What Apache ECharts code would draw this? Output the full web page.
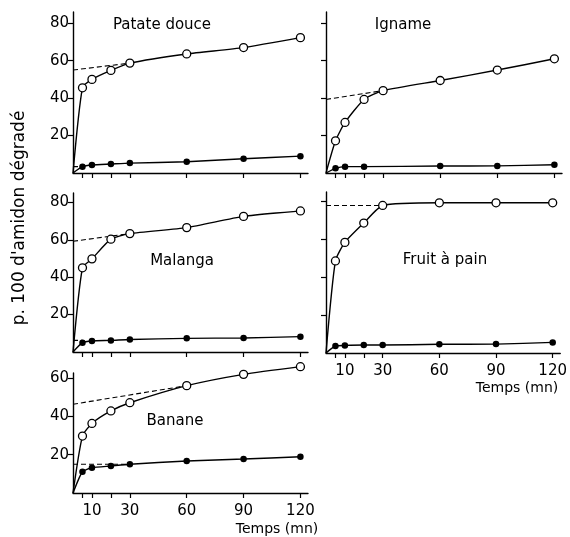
<!DOCTYPE html>
<html><head><meta charset="utf-8">
<script src="https://cdn.jsdelivr.net/npm/echarts@6/dist/echarts.min.js"></script>
<style>html,body{margin:0;padding:0;background:#fff}#c{width:570px;height:537px}</style>
</head><body><div id="c"></div>
<script>
// ---- data ----
const times = [0, 5, 10, 20, 30, 60, 90, 120];
const timesIgnameFilled = [0, 5, 10, 20, 60, 90, 120];
const xTicks = [5, 10, 20, 30, 60, 90, 120];
const xLabels = [10, 30, 60, 90, 120];
const yTicks = [20, 40, 60, 80];
const yTicksBanane = [20, 40, 60];
const panelNames = ['Patate douce', 'Igname', 'Malanga', 'Fruit à pain', 'Banane'];
const yTitle = "p. 100 d'amidon dégradé";
const xTitle = 'Temps (mn)';

const patateOpen   = [0, 45.5, 50, 54.8, 58.7, 63.6, 67, 72.3];
const patateFilled = [0, 3.4, 4.3, 4.8, 5.3, 6, 7.6, 9];
const patateDash = [[0, 55], [30, 58.7]];
const patateDashFilled = [[0, 3.4], [5, 3.4]];

const ignameOpen   = [0, 17.2, 27, 39.3, 44, 49.4, 55, 61];
const ignameFilled = [0, 2.5, 3.4, 3.4, 3.7, 3.8, 4.4];
const ignameDash = [[0, 39.3], [30, 44]];

const malangaOpen   = [0, 45, 49.8, 60.3, 63.3, 66.5, 72.5, 75.4];
const malangaFilled = [0, 5, 5.9, 6.2, 6.7, 7.3, 7.5, 8.2];
const malangaDash = [[0, 59.2], [30, 63.3]];
const malangaDashFilled = [[0, 6.2], [5, 6.2]];

const fruitOpen   = [0, 48.6, 58.4, 68.6, 77.9, 79.3, 79.3, 79.3];
const fruitFilled = [0, 3.7, 4, 4.2, 4.2, 4.6, 4.7, 5.6];
const fruitDash = [[0, 77.9], [30, 77.9]];

const bananeOpen   = [0, 29.7, 36.3, 42.8, 47.1, 56, 61.9, 65.9];
const bananeFilled = [0, 11.1, 13.2, 14.1, 15, 16.7, 17.7, 18.9];
const bananeDash = [[0, 46.3], [60, 56]];
const bananeDashFilled = [[0, 15], [30, 15]];

// ---- layout ----
const FONT = 'DejaVu Sans';
const grids = [
  {left: 73, top: 12, width: 235, height: 161},
  {left: 326, top: 12, width: 236, height: 161},
  {left: 73, top: 193, width: 235, height: 159},
  {left: 326, top: 192, width: 236, height: 161},
  {left: 73, top: 373, width: 235, height: 120}
];
const yMax = [86, 86, 85, 85, 62.6];
const showYLabels = [true, false, true, false, true];
const showXLabels = [false, false, false, true, true];

function xAxis(i) {
  return {
    type: 'value', gridIndex: i, min: 0, max: 124,
    axisLine: {show: true, lineStyle: {color: '#000', width: 1.4}},
    axisTick: {show: true, length: 5, customValues: xTicks, lineStyle: {color: '#000', width: 1.2}},
    axisLabel: {show: showXLabels[i], customValues: xLabels, color: '#000', fontFamily: FONT, fontSize: 15, margin: 11},
    splitLine: {show: false}
  };
}
function yAxis(i) {
  const ticks = i === 4 ? yTicksBanane : yTicks;
  return {
    type: 'value', gridIndex: i, min: 0, max: yMax[i],
    axisLine: {show: true, lineStyle: {color: '#000', width: 1.4}},
    axisTick: {show: true, length: 5, customValues: ticks, lineStyle: {color: '#000', width: 1.2}},
    axisLabel: {show: showYLabels[i], customValues: ticks, color: '#000', fontFamily: FONT, fontSize: 15, margin: 4,
      verticalAlign: 'middle', padding: [0, 0, 7, 0]},
    splitLine: {show: false}
  };
}
function pts(ts, vals) {
  return ts.map((t, k) => k === 0 ? {value: [t, vals[k]], symbol: 'none'} : [t, vals[k]]);
}
function openSeries(i, ts, vals) {
  return {type: 'line', xAxisIndex: i, yAxisIndex: i, data: pts(ts, vals), smooth: 0.2, clip: false,
    symbol: 'circle', symbolSize: 8, showSymbol: true,
    lineStyle: {color: '#000', width: 1.4},
    itemStyle: {color: '#fff', borderColor: '#000', borderWidth: 1.3}, z: 3, silent: true, animation: false};
}
function filledSeries(i, ts, vals) {
  return {type: 'line', xAxisIndex: i, yAxisIndex: i, data: pts(ts, vals), smooth: 0.2, clip: false,
    symbol: 'circle', symbolSize: 6.5, showSymbol: true,
    lineStyle: {color: '#000', width: 1.4},
    itemStyle: {color: '#000', borderColor: '#000', borderWidth: 0}, z: 3, silent: true, animation: false};
}
function dashSeries(i, d) {
  return {type: 'line', xAxisIndex: i, yAxisIndex: i, data: d, symbol: 'none', clip: false,
    lineStyle: {color: '#000', width: 1.1, type: [5, 3]}, z: 2, silent: true, animation: false};
}

const series = [
  openSeries(0, times, patateOpen), filledSeries(0, times, patateFilled),
  dashSeries(0, patateDash), dashSeries(0, patateDashFilled),
  openSeries(1, times, ignameOpen), filledSeries(1, timesIgnameFilled, ignameFilled),
  dashSeries(1, ignameDash),
  openSeries(2, times, malangaOpen), filledSeries(2, times, malangaFilled),
  dashSeries(2, malangaDash), dashSeries(2, malangaDashFilled),
  openSeries(3, times, fruitOpen), filledSeries(3, times, fruitFilled),
  dashSeries(3, fruitDash),
  openSeries(4, times, bananeOpen), filledSeries(4, times, bananeFilled),
  dashSeries(4, bananeDash), dashSeries(4, bananeDashFilled)
];

const titlePos = [[162, 25], [403, 25], [182, 261], [445, 260], [175, 421]];
const graphic = panelNames.map((n, i) => ({
  type: 'text', x: titlePos[i][0], y: titlePos[i][1], silent: true,
  style: {text: n, fill: '#000', font: '15px ' + FONT, align: 'center', verticalAlign: 'middle'}
}));
graphic.push({type: 'text', x: 20, y: 218, rotation: Math.PI / 2, silent: true,
  style: {text: yTitle, fill: '#000', font: '17px ' + FONT, align: 'center', verticalAlign: 'middle'}});
graphic.push({type: 'text', x: 277, y: 529, silent: true,
  style: {text: xTitle, fill: '#000', font: '14px ' + FONT, align: 'center', verticalAlign: 'middle'}});
graphic.push({type: 'text', x: 517, y: 388, silent: true,
  style: {text: xTitle, fill: '#000', font: '14px ' + FONT, align: 'center', verticalAlign: 'middle'}});

const chart = echarts.init(document.getElementById('c'), null, {renderer: 'canvas'});
chart.setOption({
  animation: false,
  backgroundColor: '#fff',
  grid: grids,
  xAxis: grids.map((g, i) => xAxis(i)),
  yAxis: grids.map((g, i) => yAxis(i)),
  series: series,
  graphic: graphic
});
</script></body></html>
